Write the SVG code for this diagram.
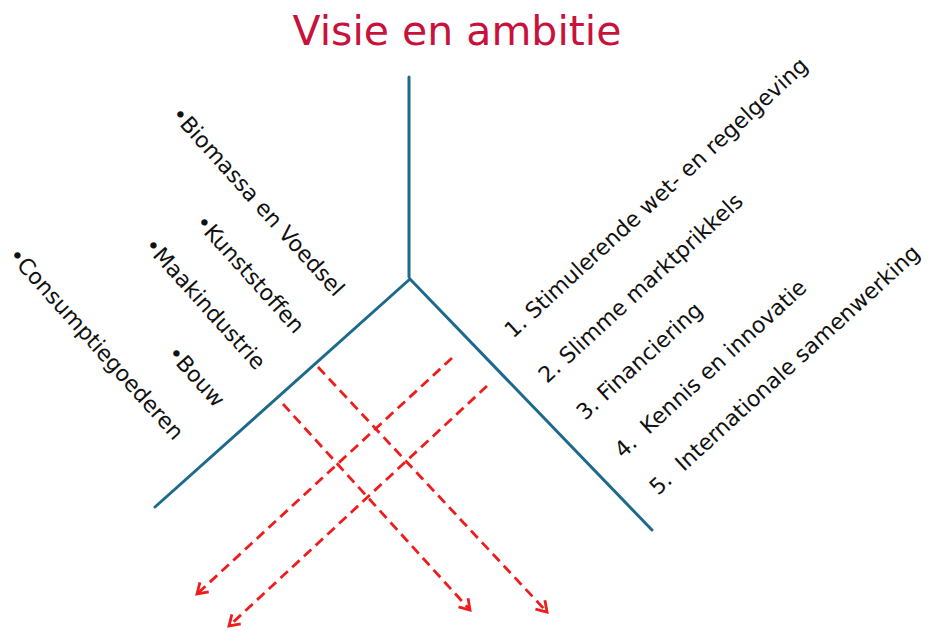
<svg xmlns="http://www.w3.org/2000/svg" width="935" height="631" viewBox="0 0 935 631">
<defs>
<style>
.t{font-family:"DejaVu Sans","Verdana",sans-serif;font-size:22px;fill:#111;white-space:pre}
.title{font-family:"DejaVu Sans","Verdana",sans-serif;font-size:41px;fill:#c8123c}
.blue{stroke:#1d6a8c;stroke-width:3;fill:none;stroke-linecap:round}
.red{stroke:#f01c1c;stroke-width:2.8;fill:none;stroke-dasharray:10 6}
</style>
<marker id="ah" markerWidth="16" markerHeight="16" refX="12" refY="8" orient="auto" markerUnits="userSpaceOnUse">
<path d="M2,1.5 L12,8 L2,14.5" fill="none" stroke="#f01c1c" stroke-width="2.8"/>
</marker>
</defs>
<rect width="935" height="631" fill="#fff"/>
<g id="title"><text class="title" x="457" y="45" text-anchor="middle">Visie en ambitie</text></g>
<g id="frame">
<line class="blue" x1="409" y1="77" x2="409" y2="277"/>
<polyline class="blue" points="155,507 410,279 652,530"/>
</g>
<g id="connectors">
<line class="red" x1="318" y1="367" x2="547" y2="612" marker-end="url(#ah)"/>
<line class="red" x1="283" y1="404" x2="470" y2="610" marker-end="url(#ah)"/>
<line class="red" x1="452" y1="358" x2="197" y2="594" marker-end="url(#ah)"/>
<line class="red" x1="487" y1="386" x2="229" y2="626" marker-end="url(#ah)"/>
</g>
<g id="sectors">
<text class="t" transform="translate(170,115) rotate(48)">•Biomassa en Voedsel</text>
<text class="t" transform="translate(194,223) rotate(48)">•Kunststoffen</text>
<text class="t" transform="translate(143,246) rotate(48)">•Maakindustrie</text>
<text class="t" transform="translate(166,354) rotate(48)">•Bouw</text>
<text class="t" transform="translate(7,256) rotate(48)">•Consumptiegoederen</text>
</g>
<g id="instruments">
<text class="t" transform="translate(513,339) rotate(-42.5)">1. Stimulerende wet- en regelgeving</text>
<text class="t" transform="translate(547,384) rotate(-42.5)">2. Slimme marktprikkels</text>
<text class="t" transform="translate(585,421) rotate(-42.5)">3. Financiering</text>
<text class="t" transform="translate(623,459) rotate(-42.5)">4.  Kennis en innovatie</text>
<text class="t" transform="translate(658,496) rotate(-42.5)">5.  Internationale samenwerking</text>
</g>
</svg>
